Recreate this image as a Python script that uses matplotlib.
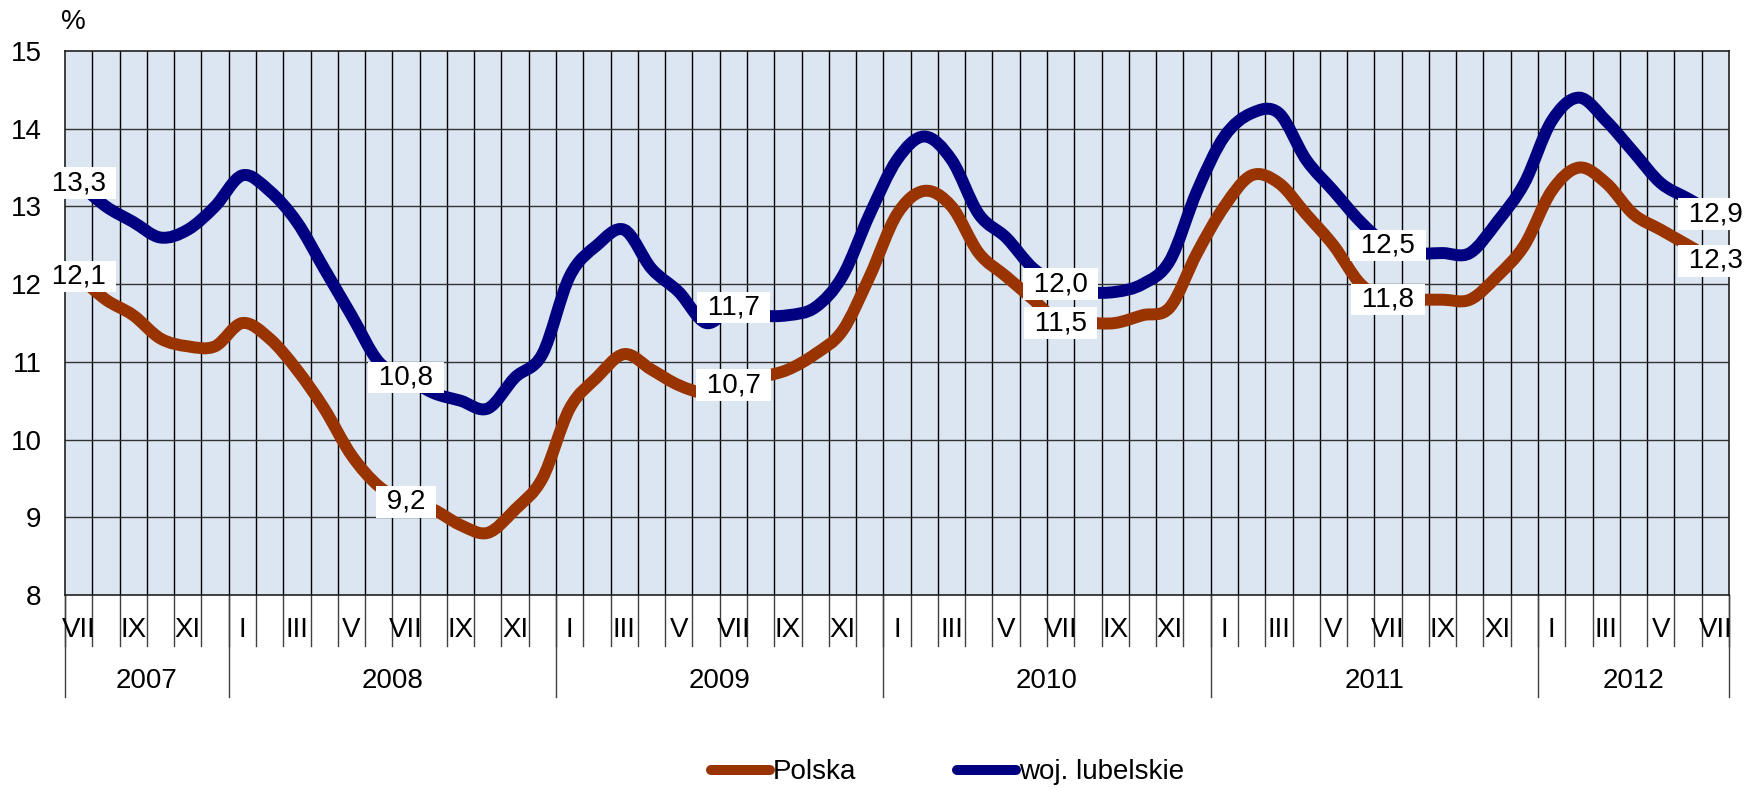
import numpy as np
import matplotlib
matplotlib.use("Agg")
import matplotlib.pyplot as plt
from matplotlib.path import Path
from matplotlib.patches import PathPatch
from matplotlib.lines import Line2D
import matplotlib.transforms as mtransforms

plt.rcParams['font.family'] = ['Liberation Sans', 'DejaVu Sans']

# monthly values, VII 2007 - VII 2012
months = ['VII', 'VIII', 'IX', 'X', 'XI', 'XII'] + \
         ['I', 'II', 'III', 'IV', 'V', 'VI', 'VII', 'VIII', 'IX', 'X', 'XI', 'XII'] * 4 + \
         ['I', 'II', 'III', 'IV', 'V', 'VI', 'VII']
years = ['2007', '2008', '2009', '2010', '2011', '2012']
year_len = [6, 12, 12, 12, 12, 7]

polska = [12.1, 11.8, 11.6, 11.3, 11.2, 11.2,
          11.5, 11.3, 10.9, 10.4, 9.8, 9.4, 9.2, 9.1, 8.9, 8.8, 9.1, 9.5,
          10.4, 10.8, 11.1, 10.9, 10.7, 10.6, 10.7, 10.8, 10.9, 11.1, 11.4, 12.1,
          12.9, 13.2, 13.0, 12.4, 12.1, 11.8, 11.5, 11.5, 11.5, 11.6, 11.7, 12.4,
          13.0, 13.4, 13.3, 12.9, 12.5, 12.0, 11.8, 11.8, 11.8, 11.8, 12.1, 12.5,
          13.2, 13.5, 13.3, 12.9, 12.7, 12.5, 12.3]
lubelskie = [13.3, 13.0, 12.8, 12.6, 12.7, 13.0,
             13.4, 13.2, 12.8, 12.2, 11.6, 11.0, 10.8, 10.6, 10.5, 10.4, 10.8, 11.1,
             12.1, 12.5, 12.7, 12.2, 11.9, 11.5, 11.7, 11.6, 11.6, 11.7, 12.1, 12.9,
             13.6, 13.9, 13.6, 12.9, 12.6, 12.2, 12.0, 11.9, 11.9, 12.0, 12.3, 13.2,
             13.9, 14.2, 14.2, 13.6, 13.2, 12.8, 12.5, 12.4, 12.4, 12.4, 12.8, 13.3,
             14.1, 14.4, 14.1, 13.7, 13.3, 13.1, 12.9]
label_idx = [0, 12, 24, 36, 48, 60]

RED = '#993300'
BLUE = '#000080'
FS = 20


def smoothPath(xs, ys):
    # bezier through the points, like a smoothed excel line
    pts = np.column_stack([xs, ys]).astype(float)
    n = len(pts)
    verts = [pts[0]]
    codes = [Path.MOVETO]
    for i in range(n - 1):
        p0 = pts[i - 1] if i > 0 else pts[i]
        p1 = pts[i]
        p2 = pts[i + 1]
        p3 = pts[i + 2] if i + 2 < n else pts[i + 1]
        verts += [p1 + (p2 - p0) / 6, p2 - (p3 - p1) / 6, p2]
        codes += [Path.CURVE4] * 3
    return Path(verts, codes)


fig = plt.figure(figsize=(17.48, 7.88), dpi=100)
ax = fig.add_axes([65 / 1748, 1 - 595 / 788, (1729 - 65) / 1748, (595 - 51) / 788])
ax.set_facecolor('#DCE6F2')

x = np.arange(len(months))
ax.set_xlim(-0.5, len(months) - 0.5)
ax.set_ylim(8, 15)
ax.set_yticks(range(8, 16))
ax.set_yticklabels([str(v) for v in range(8, 16)], fontsize=FS)
ax.tick_params(axis='y', length=0, pad=17)
ax.set_xticks([])
for s in ax.spines.values():
    s.set_color('#202020')
    s.set_linewidth(1.2)

# grid
for b in np.arange(0.5, len(months) - 1, 1):
    ax.axvline(b, color='black', lw=1.0, zorder=1)
for v in range(9, 15):
    ax.axhline(v, color='#333333', lw=1.0, zorder=1)

for vals, col in [(polska, RED), (lubelskie, BLUE)]:
    patch = PathPatch(smoothPath(x, vals), fill=False, edgecolor=col, lw=8.6,
                      capstyle='round', joinstyle='round', zorder=3)
    ax.add_patch(patch)
    for i in label_idx:
        txt = " " + f"{vals[i]:.1f}".replace('.', ',') + " "
        ax.text(x[i], vals[i], txt, ha='center', va='center',
                fontsize=FS, zorder=5, clip_on=False,
                bbox=dict(facecolor='white', edgecolor='none', boxstyle='square,pad=0.1'))

# category axis below the plot
trans = mtransforms.blended_transform_factory(ax.transData, ax.transAxes)
for b in np.arange(-0.5, len(months), 1):
    ax.plot([b, b], [0, -0.094], transform=trans, color='#404040', lw=1.0, clip_on=False)
for i, m in enumerate(months):
    if i % 2 == 0:
        ax.text(x[i], -0.0643, m, transform=trans, ha='center', va='center', fontsize=FS)
start = -0.5
for y, n in zip(years, year_len):
    ax.plot([start, start], [0, -0.1875], transform=trans, color='#404040', lw=1.0, clip_on=False)
    ax.text(start + n / 2, -0.158, y, transform=trans, ha='center', va='center', fontsize=FS)
    start += n
ax.plot([start, start], [0, -0.1875], transform=trans, color='#404040', lw=1.0, clip_on=False)

fig.text(73 / 1748, 1 - 22 / 788, '%', ha='center', va='center', fontsize=FS)

handles = [Line2D([], [], color=RED, lw=7.2, solid_capstyle='round'),
           Line2D([], [], color=BLUE, lw=7.2, solid_capstyle='round')]
fig.legend(handles, ['Polska', 'woj. lubelskie'], loc='center', bbox_to_anchor=(0.542, 0.02),
           ncol=2, frameon=False, fontsize=FS, handlelength=2.15, handletextpad=0.1,
           columnspacing=3.6)

fig.savefig('out.png', dpi=100)
plt.close()
